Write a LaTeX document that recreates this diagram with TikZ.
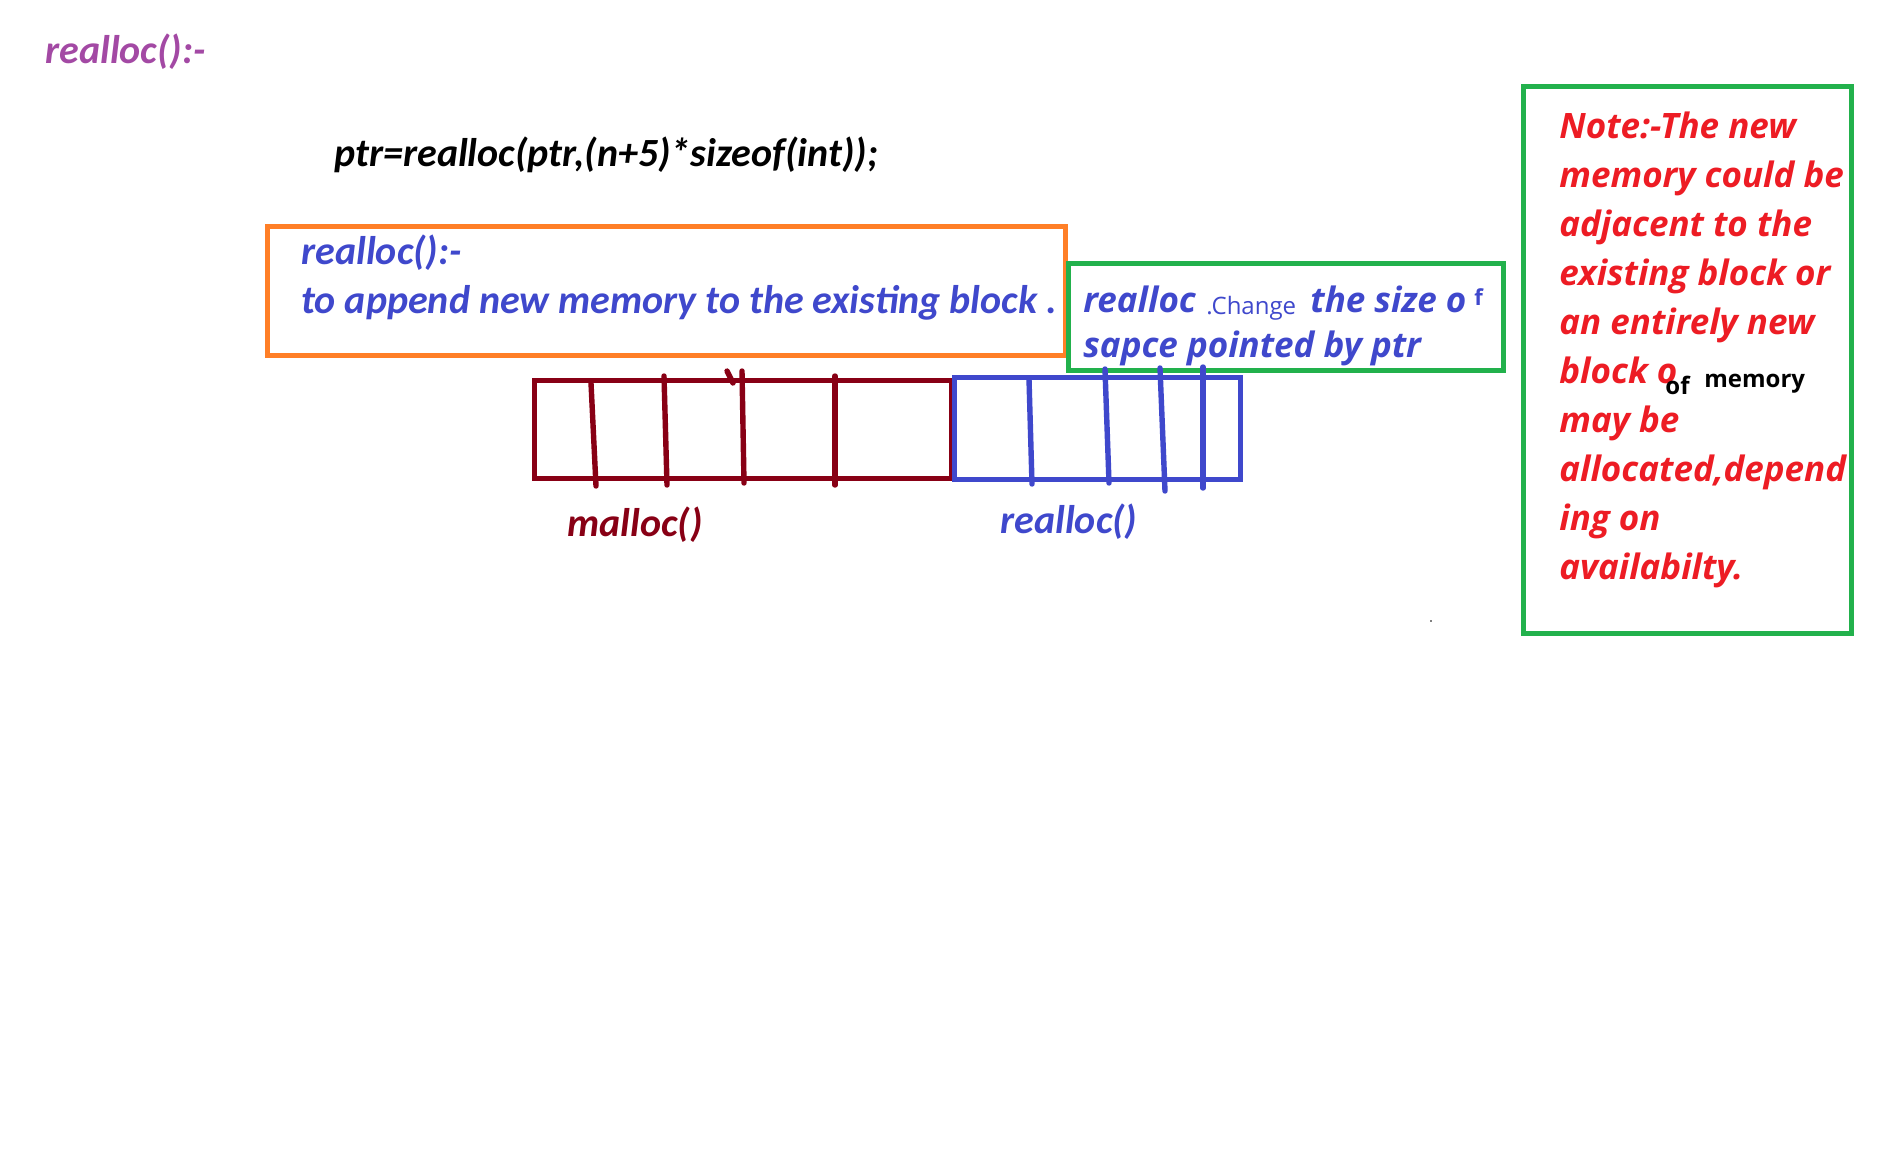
\documentclass[tikz,border=0pt]{standalone}
\usepackage{fontspec}
\setmainfont{Carlito}
\newfontfamily\osans{Open Sans}
\definecolor{ppurple}{RGB}{163,73,164}
\definecolor{pblue}{RGB}{63,72,204}
\definecolor{porange}{RGB}{255,127,39}
\definecolor{pgreen}{RGB}{34,177,76}
\definecolor{pdred}{RGB}{136,0,21}
\definecolor{pred}{RGB}{237,28,36}
\begin{document}
\begin{tikzpicture}[x=0.5pt,y=-0.5pt,
  cal/.style={font=\fontsize{20}{24}\selectfont\bfseries\itshape, inner sep=0, anchor=base west},
  osn/.style={font=\osans\fontsize{17.5}{20}\selectfont\bfseries\itshape, inner sep=0, anchor=base west},
  oreg/.style={font=\osans\fontsize{#1}{14}\selectfont, inner sep=0, anchor=base west},
  obold/.style={font=\osans\fontsize{#1}{14}\selectfont\bfseries, inner sep=0, anchor=base west},
  boxline/.style={line width=2.5pt},
  divline/.style={line width=2.7pt, line cap=round}]
\useasboundingbox[fill=white] (0,0) rectangle (1902,1169);

% title and code line
\node[cal, text=ppurple] (title) at (45,63) {realloc():-};
\node[cal, text=black] (code) at (334,166) {ptr=realloc(ptr,(n+5)*sizeof(int));};

% orange box
\draw[boxline, porange] (267,226) rectangle (1065,355);
\node[cal, text=pblue] (o1) at (301,264) {realloc():-};
\node[cal, text=pblue] (o2) at (301,313) {to append new memory to the existing block .};

% green box 1
\draw[boxline, pgreen] (1068,263) rectangle (1503,370);
\node[osn, text=pblue] (g1) at (1083,312) {realloc};
\node[oreg=12, text=pblue] (g2) at (1206,314) {.Change};
\node[osn, text=pblue] (g3) at (1310,312) {the size o};
\node[obold=11, text=pblue] (g4) at (1474,305) {f};
\node[osn, text=pblue] (g5) at (1083,357) {sapce pointed by ptr};

% memory blocks
\draw[boxline, pdred] (534,380) rectangle (951,478);
\draw[boxline, pblue] (954,377) rectangle (1240,479);
\draw[divline, pdred] (591,383) -- (596,486);
\draw[divline, pdred] (664,376) -- (667,485);
\draw[divline, pdred] (742,371) -- (744,483);
\draw[divline, pdred] (727,371) -- (733,383);
\draw[divline, pdred] (835,376) -- (835,485);
\draw[divline, pblue] (1029,379) -- (1032,484);
\draw[divline, pblue] (1105,369) -- (1109,483);
\draw[divline, pblue] (1160,368) -- (1165,491);
\draw[divline, pblue] (1203,367) -- (1203,488);

\node[cal, text=pdred] (ml) at (567,536) {malloc()};
\node[cal, text=pblue] (rl) at (1000,533) {realloc()};

% note box
\draw[boxline, pgreen] (1523,86) rectangle (1851,633);
\node[osn, text=pred] (n1) at (1559,138) {Note:-The new};
\node[osn, text=pred] (n2) at (1559,187) {memory could be};
\node[osn, text=pred] (n3) at (1559,236) {adjacent to the};
\node[osn, text=pred] (n4) at (1559,285) {existing block or};
\node[osn, text=pred] (n5) at (1559,334) {an entirely new};
\node[osn, text=pred] (n6) at (1559,383) {block o};
\node[obold=12, text=black] (n6a) at (1665,394) {of};
\node[obold=12, text=black] (n6b) at (1704,387) {memory};
\node[osn, text=pred] (n7) at (1559,432) {may be};
\node[osn, text=pred] (n8) at (1559,481) {allocated,depend};
\node[osn, text=pred] (n9) at (1559,530) {ing on};
\node[osn, text=pred] (n10) at (1559,579) {availabilty.};

\fill[gray] (1430,620) rectangle (1432,622);
\end{tikzpicture}
\end{document}
